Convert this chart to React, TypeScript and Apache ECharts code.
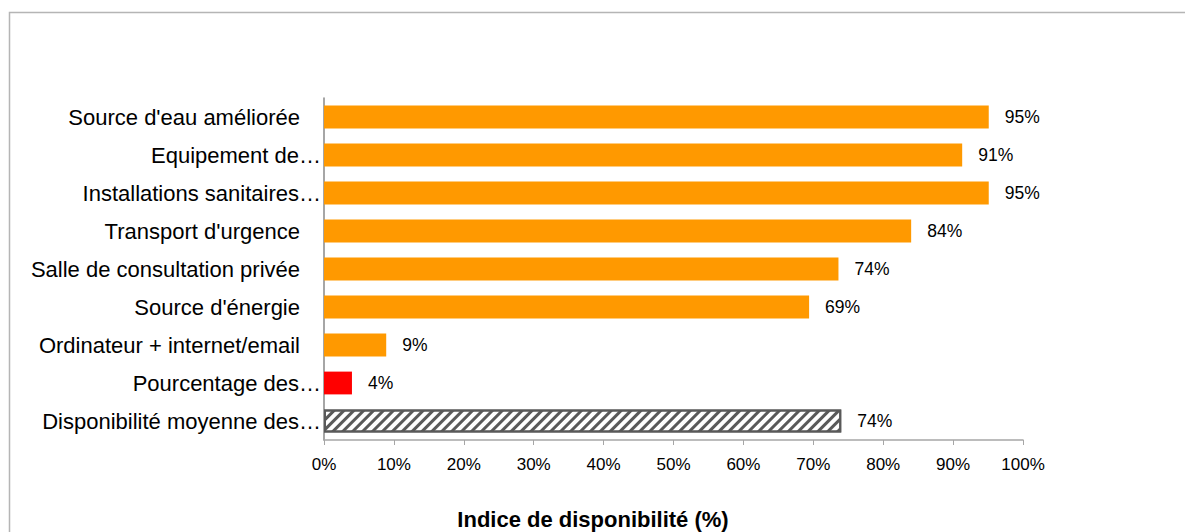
import React, { useEffect, useRef } from "react";
import * as echarts from "echarts";

const categories = [
  "Source d'eau améliorée",
  "Equipement de…",
  "Installations sanitaires…",
  "Transport d'urgence",
  "Salle de consultation privée",
  "Source d'énergie",
  "Ordinateur + internet/email",
  "Pourcentage des…",
  "Disponibilité moyenne des…",
];
const values = [95.1, 91.3, 95.1, 84.0, 73.6, 69.4, 8.9, 4.0, 74.0];
const barKinds = ["orange", "orange", "orange", "orange", "orange", "orange", "orange", "red", "hatch"];
const xTicks = [0, 10, 20, 30, 40, 50, 60, 70, 80, 90, 100];
const xAxisTitle = "Indice de disponibilité (%)";

const FONT = "'Liberation Sans', Arial, sans-serif";

export default function App() {
  const ref = useRef<HTMLDivElement>(null);
  useEffect(() => {
    if (!ref.current) return;
    const chart = echarts.init(ref.current, undefined, { renderer: "svg" });
    const data = values.map((v, i) => {
      const kind = barKinds[i];
      if (kind === "red") return { value: v, itemStyle: { color: "#FF0000" } };
      if (kind === "hatch")
        return {
          value: v,
          itemStyle: {
            color: "#ffffff",
            borderColor: "#595959",
            borderWidth: 2,
            decal: {
              symbol: "rect",
              symbolSize: 1,
              color: "#595959",
              dashArrayX: [1, 0],
              dashArrayY: [2.5, 4],
              rotation: -Math.PI / 4,
            },
          },
        };
      return { value: v, itemStyle: { color: "#FF9900" } };
    });
    chart.setOption({
      animation: false,
      textStyle: { fontFamily: FONT },
      grid: {
        left: 324,
        right: 162,
        top: 98,
        bottom: 92,
        containLabel: false,
        outerBoundsMode: "none",
      },
      xAxis: {
        type: "value",
        min: 0,
        max: 100,
        interval: 10,
        axisLine: { show: true, lineStyle: { color: "#a6a6a6", width: 1.5 } },
        axisTick: { show: true, length: 5, lineStyle: { color: "#a6a6a6" } },
        splitLine: { show: false },
        axisLabel: {
          formatter: (v: number) => (xTicks.includes(v) ? v + "%" : ""),
          fontSize: 17,
          color: "#000",
          margin: 16,
          fontFamily: FONT,
        },
      },
      yAxis: {
        type: "category",
        inverse: true,
        data: categories,
        axisLine: { show: true, lineStyle: { color: "#888888", width: 1.5 } },
        axisTick: { show: false },
        axisLabel: {
          margin: 3,
          color: "#000",
          fontSize: 22,
          fontFamily: FONT,
          formatter: (v: string) => (v.endsWith("…") ? "{t|" + v + "}" : "{n|" + v + "}"),
          rich: {
            t: { fontSize: 22, color: "#000", fontFamily: FONT },
            n: { fontSize: 22, color: "#000", fontFamily: FONT, padding: [0, 21, 0, 0] },
          },
        },
      },
      series: [
        {
          type: "bar",
          data,
          barWidth: "60%",
          label: {
            show: true,
            position: "right",
            distance: 16,
            formatter: (p: any) => Math.round(p.value) + "%",
            fontSize: 17.5,
            color: "#000",
            fontFamily: FONT,
          },
        },
      ],
      graphic: [
        {
          type: "rect",
          shape: { x: 9.5, y: 12.5, width: 1200, height: 560 },
          style: { fill: "none", stroke: "#b5b5b5", lineWidth: 1.5 },
          silent: true,
        },
        {
          type: "text",
          x: 593,
          y: 519,
          style: {
            text: xAxisTitle,
            fontSize: 22,
            fontWeight: "bold",
            fontFamily: FONT,
            fill: "#000",
            align: "center",
            verticalAlign: "middle",
          },
        },
      ],
    });
    return () => chart.dispose();
  }, []);
  return (
    <div
      ref={ref}
      style={{ position: "absolute", left: 0, top: 0, width: 1185, height: 532, background: "#fff" }}
    />
  );
}
